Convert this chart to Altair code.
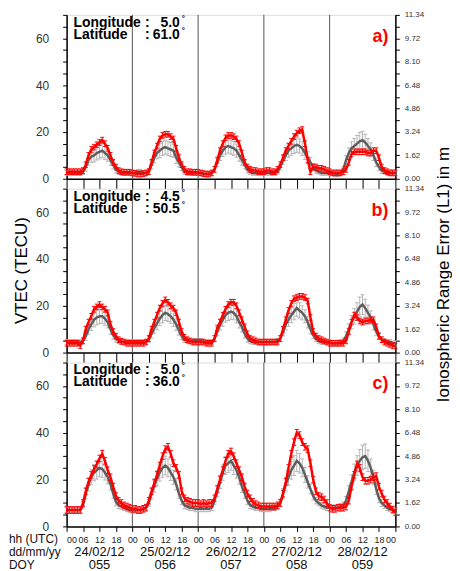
import altair as alt
import pandas as pd

HOURS = list(range(121))
DAY_LINES = [24, 48, 72, 96]
TICK_HOURS = list(range(0, 121, 6))
DATE_POS = [12, 36, 60, 84, 108]
DATE_LABELS = ["24/02/12", "25/02/12", "26/02/12", "27/02/12", "28/02/12"]
DOY_LABELS = ["055", "056", "057", "058", "059"]
ROW_LABELS = ["hh (UTC)", "dd/mm/yy", "DOY"]
PANEL_LETTERS = ["a)", "b)", "c)"]
LONGITUDES = ["5.0", "4.5", "5.0"]
LATITUDES = ["61.0", "50.5", "36.0"]
LEFT_TICKS = [0, 5, 10, 15, 20, 25, 30, 35, 40, 45, 50, 55, 60, 65, 70]
RIGHT_TICKS = [0.00, 0.81, 1.62, 2.43, 3.24, 4.05, 4.86, 5.67, 6.48, 7.29, 8.10, 8.91, 9.72, 10.53, 11.34]
RED_ERR = [1.2, 1.2, 1.4]

# ---- panel a (5.0E, 61.0N) ----
RED_A = [3, 3, 3, 3, 3, 3, 3.5, 6, 10, 12.5, 13.5, 14.5, 15.5, 16.5, 15, 13, 10, 7, 5, 3.5, 3, 2.8, 2.8, 2.8,
         2.5, 2.3, 2.0, 2.0, 2.2, 2.5, 3, 7, 11, 14, 17, 18.5, 19, 19, 18, 17, 13, 9, 6, 4, 3, 3, 2.8, 2.8,
         2.8, 2.5, 2.2, 2, 2, 2.5, 4, 8, 12, 15, 17.5, 18.5, 18.5, 18, 17, 15, 11, 7, 5, 4, 3.5, 3.5, 3, 3,
         3, 3.5, 3.5, 3, 3, 4, 6, 9, 12, 14, 16, 18, 19.5, 20.5, 21, 15, 8, 3, 5, 5, 4.5, 4.5, 4, 3.5,
         3, 2.5, 2.5, 2.5, 2.5, 3, 4, 7, 10.5, 11.5, 11.5, 11.5, 11.5, 11.5, 11, 11, 12, 12, 9, 5, 3.5, 3, 2.5, 2.5,
         2.5]
GRAY_A = [2.5, 2.5, 2.5, 2.5, 2.5, 2.5, 3, 5, 8, 9.5, 10, 11, 11.5, 12, 11, 10, 8, 6, 4, 3, 2.5, 2.5, 2.5, 2.5,
          2.5, 2.5, 3, 3, 2.5, 2.5, 3, 6, 9, 11, 12, 13, 13.5, 13, 12.5, 12, 9, 7, 5, 3, 2.5, 2.5, 2.5, 2.5,
          2.5, 2.5, 2, 2, 2, 2.5, 4, 7, 10, 12, 13.5, 14, 13.5, 13, 12, 10, 8, 6, 4, 3, 2.5, 2.5, 2.5, 2.5,
          2.5, 2.5, 2.5, 2.5, 2.5, 3, 5, 8, 10, 12, 13, 14, 14.5, 14, 13, 11, 9, 7, 5, 3.5, 3, 2.5, 2.5, 2.5,
          2.5, 2.5, 2, 2, 2.5, 4, 8, 11, 13, 14, 15, 16, 16.5, 15.5, 14, 12.5, 10, 7, 5, 3.5, 3, 2.5, 2.5, 2.5,
          2.5]
GERR_A = [1, 1, 1, 1, 1, 1, 1.2, 1.8, 2.2, 2.5, 2.8, 3, 3, 3, 2.8, 2.5, 2.2, 1.8, 1.5, 1.2, 1, 1, 1, 1,
          1, 1, 1, 1, 1, 1, 1.2, 1.8, 2.2, 2.5, 3, 3, 3, 3, 3, 2.8, 2.5, 2, 1.5, 1.2, 1, 1, 1, 1,
          1, 1, 1, 1, 1, 1, 1.2, 1.8, 2.2, 2.5, 3, 3, 3, 3, 2.8, 2.5, 2.2, 1.8, 1.5, 1.2, 1, 1, 1, 1,
          1, 1, 1, 1, 1, 1, 1.2, 1.8, 2.2, 2.8, 3, 3.2, 3.2, 3, 3, 2.8, 2.5, 2, 1.5, 1.2, 1, 1, 1, 1,
          1, 1, 1, 1, 1, 1.2, 1.8, 2.2, 2.8, 3.2, 3.5, 3.8, 3.8, 3.5, 3.2, 2.8, 2.2, 1.8, 1.5, 1.2, 1, 1, 1, 1,
          1]

# ---- panel b (4.5E, 50.5N) ----
RED_B = [4, 4, 4, 4, 4, 3, 5, 10, 13, 15.5, 18.5, 19.5, 20.5, 19.5, 18.5, 17, 12, 9, 7, 5.5, 4.8, 4.5, 4, 4,
         4, 4, 4, 4, 4, 4.5, 6, 10, 13, 16, 19, 21, 22.5, 21.5, 20, 19, 17, 13, 9, 6.5, 5.5, 5, 4.5, 4.5,
         4.5, 4.5, 4.5, 4, 4, 4, 6, 10.5, 13, 16, 18.5, 20.5, 21.5, 21.5, 20, 17, 14, 11, 8, 6, 5.5, 5, 4.5, 4.5,
         4.5, 4.5, 4.5, 4.5, 4.5, 4.5, 6, 10, 14, 18, 21, 23, 23.5, 24, 24, 23.5, 22, 15, 9, 7, 6, 5.5, 5, 4.5,
         4, 4, 4, 4, 4, 4, 5, 9, 13, 16, 15, 13.5, 13, 13.5, 13.5, 14, 14, 11, 7, 5.5, 4.5, 4, 3.5, 3,
         2.8]
GRAY_B = [4.5, 4.5, 4.5, 4.5, 4.5, 4.5, 5, 7, 10, 12, 14, 15, 15.5, 15.5, 14.5, 13, 10, 7.5, 6, 5, 4.5, 4.5, 4.5, 4.5,
          4.5, 4.5, 4.5, 4.5, 4.5, 4.5, 5.5, 8, 10.5, 12.5, 14.5, 16, 17, 16.5, 15.5, 14, 12, 9.5, 7, 5.5, 5, 5, 5, 5,
          5, 5, 4.5, 4.5, 4.5, 4.5, 6, 9, 12, 14, 16, 17, 17.5, 17, 15.5, 13, 11, 8, 6, 5, 4.5, 4.5, 4.5, 4.5,
          4.5, 4.5, 4.5, 4.5, 4.5, 5, 6, 9, 12, 14, 16, 17.5, 19, 18, 17, 15.5, 13, 10, 7.5, 6, 5, 4.5, 4.5, 4.5,
          4.5, 4, 4, 4, 4.5, 5, 7, 10, 13, 15.5, 17.5, 19.5, 20.5, 19, 17, 15, 12, 9, 7, 5.5, 5, 4.5, 4.5, 4,
          4]
GERR_B = [1, 1, 1, 1, 1, 1, 1.2, 1.8, 2.2, 2.6, 3, 3.2, 3.2, 3, 2.8, 2.5, 2.2, 1.8, 1.5, 1.2, 1, 1, 1, 1,
          1, 1, 1, 1, 1, 1, 1.3, 1.8, 2.3, 2.8, 3, 3.3, 3.3, 3.2, 3, 2.8, 2.5, 2, 1.5, 1.2, 1, 1, 1, 1,
          1, 1, 1, 1, 1, 1, 1.3, 1.8, 2.3, 2.8, 3, 3.3, 3.3, 3, 2.8, 2.5, 2.2, 1.8, 1.5, 1.2, 1, 1, 1, 1,
          1, 1, 1, 1, 1, 1, 1.3, 1.8, 2.3, 2.8, 3.2, 3.5, 3.5, 3.3, 3, 2.8, 2.5, 2, 1.5, 1.2, 1, 1, 1, 1,
          1, 1, 1, 1, 1, 1.2, 1.8, 2.3, 2.8, 3.3, 3.8, 4.2, 4.2, 3.8, 3.3, 2.8, 2.3, 1.8, 1.5, 1.2, 1, 1, 1, 1,
          1]

# ---- panel c (5.0E, 36.0N) ----
RED_C = [7, 7, 7, 7, 7, 7, 10, 15, 19, 22, 24.5, 26.5, 29, 31, 28, 24, 21, 17, 13, 11, 10, 9, 8.5, 8,
         7.5, 7.5, 7, 7, 7.5, 8, 11, 15, 18.5, 22, 26, 30, 33, 34, 31, 27, 25, 22, 15, 12, 11, 10.5, 10, 10,
         10, 9.5, 10, 9.5, 10, 10, 12, 16, 20, 24, 28, 31, 32, 30, 27, 24, 21, 17, 14, 12, 10.5, 9.5, 9, 8.5,
         8.5, 8.5, 8.5, 8.5, 8.5, 9, 10, 14, 19, 25, 31, 36, 40, 39, 36, 34, 33, 27, 20, 15, 13, 12.5, 11.5, 10,
         8, 7.5, 7.5, 8, 8, 8, 8.5, 11, 17, 22, 26.5, 25, 21, 19.5, 19.5, 20, 21, 21.5, 17, 14, 11.5, 10, 8.5, 7.2,
         6]
GRAY_C = [7, 7, 7, 7, 7, 7, 9, 14, 18, 21, 23, 24, 25, 24.5, 23, 21, 18, 14, 10.5, 9, 8.5, 8, 7.5, 7,
          7, 7, 7, 7, 7.5, 8, 10, 14, 17.5, 20.5, 23, 25, 26, 25, 23, 21, 18, 14, 11, 9, 8.5, 8, 8, 7.5,
          7.5, 7.5, 7.5, 7.5, 7.5, 8, 11, 15, 19, 23, 26, 27, 28, 26, 24, 21, 17, 14, 11, 9, 8.5, 8, 8, 7.5,
          7.5, 7.5, 7.5, 8, 8, 8.5, 10, 14, 18, 21, 24, 26, 28, 27, 25, 22, 19, 16, 13, 11, 10, 9, 8.5, 8,
          8, 8, 8, 8, 8.5, 9, 11, 15, 19, 23, 26, 28, 29.5, 30, 28, 25, 21, 16, 12, 10, 9, 8, 7.5, 7,
          6.5]
GERR_C = [1.2, 1.2, 1.2, 1.2, 1.2, 1.2, 1.5, 2.2, 2.8, 3.2, 3.5, 3.8, 3.8, 3.5, 3.2, 2.8, 2.4, 2, 1.7, 1.4, 1.2, 1.2, 1.2, 1.2,
          1.2, 1.2, 1.2, 1.2, 1.2, 1.2, 1.5, 2.2, 2.8, 3.2, 3.6, 4, 4, 3.8, 3.4, 3, 2.5, 2, 1.7, 1.4, 1.2, 1.2, 1.2, 1.2,
          1.2, 1.2, 1.2, 1.2, 1.2, 1.2, 1.5, 2.2, 2.8, 3.3, 3.8, 4, 4, 3.8, 3.4, 3, 2.5, 2, 1.7, 1.4, 1.2, 1.2, 1.2, 1.2,
          1.2, 1.2, 1.2, 1.2, 1.2, 1.2, 1.5, 2.2, 2.8, 3.4, 3.8, 4.2, 4.5, 4.2, 3.8, 3.2, 2.6, 2.1, 1.7, 1.4, 1.2, 1.2, 1.2, 1.2,
          1.2, 1.2, 1.2, 1.2, 1.2, 1.4, 1.8, 2.4, 3, 3.6, 4.2, 4.8, 5.2, 5.2, 4.6, 3.8, 3, 2.4, 1.9, 1.5, 1.3, 1.2, 1.2, 1.2,
          1.2]

PANELS = [(RED_A, GRAY_A, GERR_A), (RED_B, GRAY_B, GERR_B), (RED_C, GRAY_C, GERR_C)]

W, H = 331, 165
FONT = "Liberation Sans"
RED = "#ff0000"
GRAY_LINE = "#5e5e5e"
GRAY_BAR = "#b4b4b4"


def make_panel(i):
    red, gray, gerr = PANELS[i]
    rerr = RED_ERR[i]
    bottom = i == 2
    df = pd.DataFrame({
        "h": HOURS,
        "red": red,
        "gray": gray,
        "glo": [g - e for g, e in zip(gray, gerr)],
        "ghi": [g + e for g, e in zip(gray, gerr)],
        "rlo": [r - rerr for r in red],
        "rhi": [r + rerr for r in red],
    })

    xax = alt.Axis(
        values=TICK_HOURS, labels=bottom, grid=False, title=None,
        tickSize=5 if bottom else 10, tickColor="black", tickWidth=1,
        labelExpr="(datum.value % 24 < 10 ? '0' : '') + (datum.value % 24)",
        labelFontSize=9, labelPadding=4, labelColor="#222",
        domainColor="black", domainWidth=1.5,
    )
    xenc = alt.X("h:Q", scale=alt.Scale(domain=[0, 120], nice=False, zero=False), axis=xax)

    yax = alt.Axis(
        values=LEFT_TICKS, grid=False,
        labelExpr="datum.value % 20 == 0 ? datum.label : ''",
        tickSize=4, tickColor="black", labelPadding=14, labelFontSize=12, labelColor="#333",
        domainColor="black", domainWidth=1.5,
        title="VTEC (TECU)" if i == 1 else None,
        titleX=-45, titleY=82, titleAngle=270, titleFontSize=17, titleFontWeight="normal",
        titleBaseline="middle", titleAlign="center", titleColor="black",
    )
    yscale = alt.Scale(domain=[0, 70], nice=False, zero=True)

    def Y(field):
        return alt.Y(field, type="quantitative", scale=yscale, axis=yax)

    base = alt.Chart(df)
    day_lines = alt.Chart(pd.DataFrame({"h": DAY_LINES})).mark_rule(
        color="#555555", strokeWidth=1).encode(x=xenc)
    g_bar = base.mark_rule(color=GRAY_BAR, strokeWidth=1).encode(x=xenc, y=Y("glo"), y2="ghi")
    g_cap_lo = base.mark_point(shape="stroke", size=16, color=GRAY_BAR, strokeWidth=1,
                               filled=False, opacity=1).encode(x=xenc, y=Y("glo"))
    g_cap_hi = base.mark_point(shape="stroke", size=16, color=GRAY_BAR, strokeWidth=1,
                               filled=False, opacity=1).encode(x=xenc, y=Y("ghi"))
    g_line = base.mark_line(color=GRAY_LINE, strokeWidth=2.5).encode(x=xenc, y=Y("gray"))
    r_bar = base.mark_rule(color=RED, strokeWidth=1).encode(x=xenc, y=Y("rlo"), y2="rhi")
    r_cap_lo = base.mark_point(shape="stroke", size=16, color=RED, strokeWidth=1,
                               filled=False, opacity=1).encode(x=xenc, y=Y("rlo"))
    r_cap_hi = base.mark_point(shape="stroke", size=16, color=RED, strokeWidth=1,
                               filled=False, opacity=1).encode(x=xenc, y=Y("rhi"))
    r_line = base.mark_line(color=RED, strokeWidth=2.5).encode(x=xenc, y=Y("red"))

    def txt(s, x, y, **kw):
        return alt.Chart(pd.DataFrame({"t": [s]})).mark_text(font=FONT, **kw).encode(
            text="t:N", x=alt.value(x), y=alt.value(y))

    info = [
        txt("Longitude", 7, 12, align="left", baseline="alphabetic", fontSize=14, fontWeight="bold"),
        txt(":", 79, 12, align="left", baseline="alphabetic", fontSize=14, fontWeight="bold"),
        txt(LONGITUDES[i], 114, 12, align="right", baseline="alphabetic", fontSize=14, fontWeight="bold"),
        txt("°", 116, 6, align="left", baseline="alphabetic", fontSize=8, fontWeight="bold"),
        txt("Latitude", 7, 24, align="left", baseline="alphabetic", fontSize=14, fontWeight="bold"),
        txt(":", 79, 24, align="left", baseline="alphabetic", fontSize=14, fontWeight="bold"),
        txt(LATITUDES[i], 114, 24, align="right", baseline="alphabetic", fontSize=14, fontWeight="bold"),
        txt("°", 116, 18, align="left", baseline="alphabetic", fontSize=8, fontWeight="bold"),
        txt(PANEL_LETTERS[i], 324, 27, align="right", baseline="alphabetic", fontSize=18,
            fontWeight="bold", color=RED),
    ]

    layers = [day_lines, g_bar, g_cap_lo, g_cap_hi, g_line, r_bar, r_cap_lo, r_cap_hi, r_line] + info

    if bottom:
        ddf = pd.DataFrame({"h": DATE_POS, "d": DATE_LABELS, "o": DOY_LABELS})
        layers.append(alt.Chart(ddf).mark_text(font=FONT, fontSize=13, baseline="middle",
                                               align="center", color="#111").encode(
            x=xenc, y=alt.value(191), text="d:N"))
        layers.append(alt.Chart(ddf).mark_text(font=FONT, fontSize=13, baseline="middle",
                                               align="center", color="#111").encode(
            x=xenc, y=alt.value(204), text="o:N"))
        for lab, yy in zip(ROW_LABELS, [177.5, 191, 204]):
            layers.append(txt(lab, -58, yy, align="left", baseline="middle", fontSize=12, color="#111"))

    inner = alt.layer(*layers)

    rax = alt.Axis(
        orient="right", values=RIGHT_TICKS, grid=False,
        labelExpr="abs(datum.value/1.62 - round(datum.value/1.62)) < 0.01 ? format(datum.value, '.2f') : ''",
        tickSize=4, tickColor="black", labelPadding=5, labelFontSize=8, labelColor="#333",
        domainColor="black", domainWidth=1.5,
        title="Ionospheric Range Error (L1) in m" if i == 1 else None,
        titleX=48, titleY=86, titleAngle=270, titleFontSize=17, titleFontWeight="normal",
        titleBaseline="middle", titleAlign="center", titleColor="black",
    )
    right = alt.Chart(pd.DataFrame({"m": RIGHT_TICKS})).mark_point(opacity=0).encode(
        y=alt.Y("m:Q", scale=alt.Scale(domain=[0, 11.34], nice=False, zero=True), axis=rax))

    return alt.layer(inner, right).resolve_scale(y="independent").properties(width=W, height=H)


chart = alt.vconcat(make_panel(0), make_panel(1), make_panel(2), spacing=10, bounds="flush").properties(
    padding=0
).configure_view(
    stroke="black", strokeWidth=1.5
).configure_axis(
    labelFont=FONT, titleFont=FONT
).configure(background="white")

chart.save("out.html", embed_options={"renderer": "svg", "actions": False})
